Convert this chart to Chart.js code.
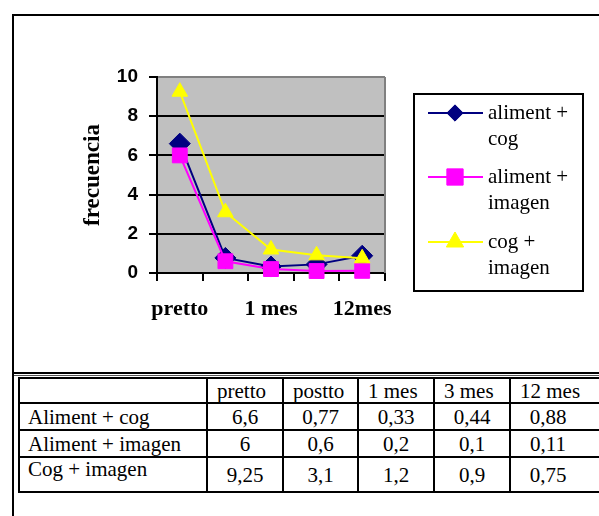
<!DOCTYPE html>
<html>
<head>
<meta charset="utf-8">
<script src="https://cdn.jsdelivr.net/npm/chart.js@4/dist/chart.umd.min.js"></script>
<style>
  html, body { margin: 0; padding: 0; background: #fff; }
  body { width: 599px; height: 516px; position: relative; overflow: hidden; }
  .rule { position: absolute; background: #000; }
  #chartCanvas { position: absolute; left: 0; top: 0; }
  #tableWrap { position: absolute; left: 18px; top: 377px; width: 700px; }
  #dataTable {
    width: 613px;
    border-collapse: collapse; table-layout: fixed;
    font-family: "Liberation Serif", "Times New Roman", serif;
    font-size: 21px; color: #000;
  }
  #dataTable td { border: 2px solid #000; padding: 0; line-height: 22px; overflow: hidden; white-space: nowrap; }
  #dataTable td.head { text-align: left; padding-left: 9px; }
  #dataTable td.name { text-align: left; padding-left: 8px; }
  #dataTable td.num { text-align: center; }
  #dataTable td.num.last { padding-right: 46px; }
  #dataTable tr.r0 { height: 25px; }
  #dataTable tr.r1 { height: 27px; }
  #dataTable tr.r2 { height: 27px; }
  #dataTable tr.r3 { height: 35px; }
  #dataTable tr.r3 td.name { vertical-align: top; }
</style>
</head>
<body>
<div class="rule" style="left:12px;top:14px;width:600px;height:2px;"></div>
<div class="rule" style="left:12px;top:14px;width:2px;height:510px;"></div>
<div class="rule" style="left:12px;top:372px;width:600px;height:2px;"></div>
<div class="rule" style="left:14px;top:375px;width:600px;height:1px;background:#555;"></div>
<canvas id="chartCanvas" width="599" height="370"></canvas>
<div id="tableWrap"><table id="dataTable"></table></div>
<script>
// Time points on the category axis, and the matching table headers
const categories = ['pretto', 'postto', '1 mes', '3 mes', '12mes'];
const tableHeaders = ['pretto', 'postto', '1 mes', '3 mes', '12 mes'];

// Frequency per group
const alimentCog = [6.6, 0.77, 0.33, 0.44, 0.88];
const alimentImagen = [6, 0.6, 0.2, 0.1, 0.11];
const cogImagen = [9.25, 3.1, 1.2, 0.9, 0.75];

// Legend text (wrapped) and table row names
const legendLines = [['aliment +', 'cog'], ['aliment +', 'imagen'], ['cog +', 'imagen']];
const rowNames = ['Aliment + cog', 'Aliment + imagen', 'Cog + imagen'];

// Y axis ticks
const yTicks = [0, 2, 4, 6, 8, 10];

const serif = '"Liberation Serif", "Times New Roman", serif';
const sans = '"Liberation Sans", Arial, sans-serif';

const PLOT = { left: 157, top: 77, right: 385, bottom: 273 };
const CANVAS_W = 599, CANVAS_H = 370;

function drawMarker(ctx, style, r, x, y, color) {
  ctx.save();
  ctx.fillStyle = color;
  ctx.strokeStyle = color;
  ctx.lineWidth = 1;
  ctx.beginPath();
  if (style === 'rectRot') {
    const s = r * Math.SQRT1_2;
    ctx.moveTo(x - s, y); ctx.lineTo(x, y + s); ctx.lineTo(x + s, y); ctx.lineTo(x, y - s);
  } else if (style === 'rect') {
    const s = r * Math.SQRT1_2;
    ctx.rect(x - s, y - s, 2 * s, 2 * s);
  } else {
    let a = 0;
    for (let k = 0; k < 3; k++) {
      const px = x + Math.sin(a) * r, py = y - Math.cos(a) * r;
      if (k === 0) ctx.moveTo(px, py); else ctx.lineTo(px, py);
      a += 2 * Math.PI / 3;
    }
  }
  ctx.closePath();
  ctx.fill();
  ctx.stroke();
  ctx.restore();
}

// Gray plot background plus the gray right border
const plotBackground = {
  id: 'plotBackground',
  beforeDraw(chart) {
    const { ctx, chartArea: a } = chart;
    ctx.save();
    ctx.fillStyle = '#C0C0C0';
    ctx.fillRect(a.left, a.top, a.right - a.left, a.bottom - a.top);
    ctx.restore();
  },
  beforeDatasetsDraw(chart) {
    const { ctx, chartArea: a } = chart;
    ctx.save();
    ctx.strokeStyle = '#808080';
    ctx.lineWidth = 2;
    ctx.beginPath();
    ctx.moveTo(a.right, a.top);
    ctx.lineTo(a.right, a.bottom);
    ctx.stroke();
    ctx.restore();
  }
};

// Boxed legend on the right with two-line entries
const boxedLegend = {
  id: 'boxedLegend',
  afterDraw(chart) {
    const { ctx } = chart;
    const box = { x: 414, y: 94, w: 169, h: 197 };
    ctx.save();
    ctx.fillStyle = '#fff';
    ctx.fillRect(box.x, box.y, box.w, box.h);
    ctx.strokeStyle = '#000';
    ctx.lineWidth = 2;
    ctx.strokeRect(box.x, box.y, box.w, box.h);
    ctx.font = '21px ' + serif;
    ctx.fillStyle = '#000';
    ctx.textAlign = 'left';
    ctx.textBaseline = 'alphabetic';
    const firstBaseline = [119, 183, 248];
    chart.data.datasets.forEach((ds, i) => {
      const base = firstBaseline[i];
      const ly = base - 6;
      ctx.strokeStyle = ds.borderColor;
      ctx.lineWidth = 2;
      ctx.beginPath();
      ctx.moveTo(428, ly);
      ctx.lineTo(483, ly);
      ctx.stroke();
      drawMarker(ctx, ds.pointStyle, ds.pointRadius + 1, 455, ly, ds.borderColor);
      ctx.fillStyle = '#000';
      legendLines[i].forEach((line, j) => ctx.fillText(line, 488, base + j * 26));
    });
    ctx.restore();
  }
};

function series(values, color, style, radius, order) {
  return {
    data: values,
    borderColor: color,
    backgroundColor: color,
    pointBackgroundColor: color,
    pointBorderColor: color,
    pointBorderWidth: 1,
    pointStyle: style,
    pointRadius: radius,
    pointHoverRadius: radius,
    borderWidth: 2,
    tension: 0,
    clip: false,
    order: order
  };
}

new Chart(document.getElementById('chartCanvas'), {
  type: 'line',
  data: {
    labels: categories,
    datasets: [
      Object.assign(series(alimentCog, '#000080', 'rectRot', 10.5, 3), { label: rowNames[0] }),
      Object.assign(series(alimentImagen, '#FF00FF', 'rect', 10.5, 2), { label: rowNames[1] }),
      Object.assign(series(cogImagen, '#FFFF00', 'triangle', 9, 1), { label: rowNames[2] })
    ]
  },
  options: {
    responsive: false,
    animation: false,
    devicePixelRatio: 1,
    layout: { padding: { left: 0, top: PLOT.top, right: CANVAS_W - PLOT.right, bottom: 0 } },
    plugins: { legend: { display: false }, tooltip: { enabled: false } },
    scales: {
      x: {
        type: 'category',
        offset: true,
        afterFit(scale) { scale.height = CANVAS_H - PLOT.bottom; },
        grid: {
          offset: true,
          drawOnChartArea: false,
          drawTicks: true,
          tickLength: 8,
          tickColor: '#000',
          lineWidth: 2
        },
        border: { display: true, color: '#000', width: 2 },
        ticks: {
          autoSkip: false,
          maxRotation: 0,
          padding: 15,
          color: '#000',
          font: { family: serif, size: 22, weight: 'bold' },
          callback: (v, i) => (i % 2 === 0 ? categories[i] : '')
        }
      },
      y: {
        min: yTicks[0],
        max: yTicks[yTicks.length - 1],
        afterFit(scale) { scale.width = PLOT.left; },
        afterBuildTicks(scale) { scale.ticks = yTicks.map(v => ({ value: v })); },
        grid: {
          color: ctx => (ctx.tick && ctx.tick.value === 10 ? '#808080' : '#000'),
          lineWidth: 2,
          drawTicks: true,
          tickLength: 8,
          tickColor: '#000'
        },
        border: { display: true, color: '#000', width: 2 },
        ticks: {
          padding: 11,
          color: '#000',
          font: { family: sans, size: 19, weight: 'bold' }
        },
        title: {
          display: true,
          text: 'frecuencia',
          color: '#000',
          font: { family: serif, size: 23, weight: 'bold' },
          padding: { top: 79, bottom: 0 }
        }
      }
    }
  },
  plugins: [plotBackground, boxedLegend]
});

// Data table under the chart
const fmt = v => String(v).replace('.', ',');
const colWidths = [188, 76, 75, 76, 76, 122];
const table = document.getElementById('dataTable');
const cg = document.createElement('colgroup');
colWidths.forEach(w => { const c = document.createElement('col'); c.style.width = w + 'px'; cg.appendChild(c); });
table.appendChild(cg);
const head = document.createElement('tr');
head.className = 'r0';
head.appendChild(document.createElement('td'));
tableHeaders.forEach(h => { const td = document.createElement('td'); td.className = 'head'; td.textContent = h; head.appendChild(td); });
table.appendChild(head);
[alimentCog, alimentImagen, cogImagen].forEach((vals, i) => {
  const tr = document.createElement('tr');
  tr.className = 'r' + (i + 1);
  const name = document.createElement('td');
  name.className = 'name';
  name.textContent = rowNames[i];
  tr.appendChild(name);
  vals.forEach((v, j) => {
    const td = document.createElement('td');
    td.className = 'num' + (j === vals.length - 1 ? ' last' : '');
    td.textContent = fmt(v);
    tr.appendChild(td);
  });
  table.appendChild(tr);
});
</script>
</body>
</html>
